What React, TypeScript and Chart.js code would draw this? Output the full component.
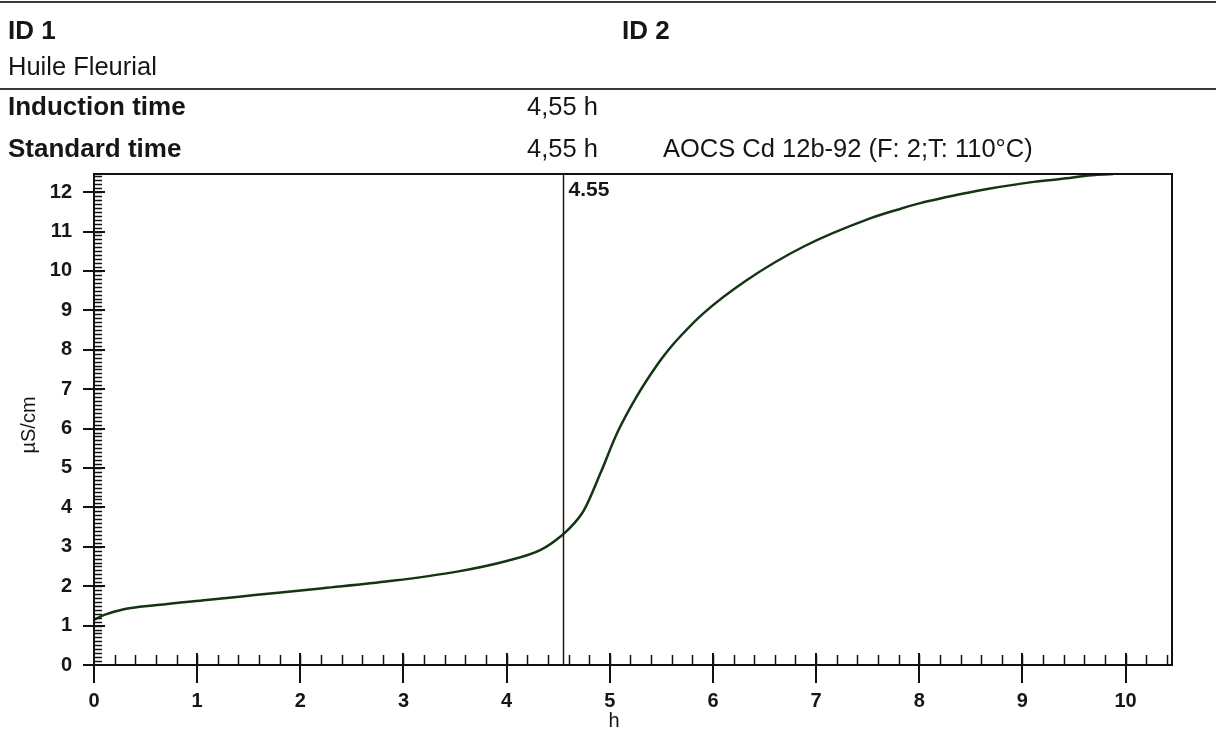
import React, { useEffect, useRef } from "react";
import { Chart, registerables } from "chart.js";

Chart.register(...registerables);

// ---- data ----
const timeH = [0, 0.1, 0.28, 0.61, 1.09, 1.58, 2.22, 2.87, 3.52, 4.0, 4.33, 4.54, 4.65, 4.75, 4.91, 5.07, 5.26, 5.46, 5.57, 5.68, 5.91, 6.33, 6.88, 7.53, 7.82, 8.01, 8.46, 8.66, 9.11, 9.43, 9.6, 9.88];
const conductivity = [1.15, 1.27, 1.41, 1.52, 1.65, 1.78, 1.95, 2.13, 2.37, 2.64, 2.92, 3.3, 3.58, 3.93, 4.87, 5.88, 6.81, 7.62, 8.0, 8.33, 8.93, 9.77, 10.62, 11.34, 11.58, 11.72, 11.98, 12.08, 12.26, 12.35, 12.41, 12.46];
const xTickValues = [0, 1, 2, 3, 4, 5, 6, 7, 8, 9, 10];
const yTickValues = [0, 1, 2, 3, 4, 5, 6, 7, 8, 9, 10, 11, 12];
const xMax = 10.45;
const yMax = 12.46;
const xMinorStep = 0.2;
const yMinorStep = 0.1;
const inductionTime = 4.55;
const inductionLabel = "4.55";
const xTitle = "h";
const yTitle = "µS/cm";

const headerId1 = "ID 1";
const headerId2 = "ID 2";
const sampleName = "Huile Fleurial";
const inductionRow = ["Induction time", "4,55 h"];
const standardRow = ["Standard time", "4,55 h", "AOCS Cd 12b-92 (F: 2;T: 110°C)"];

const FONT = '"Liberation Sans", Arial, Helvetica, sans-serif';
const INK = "#161616";

const headerPlugin = {
  id: "header",
  beforeDraw(chart: any) {
    const ctx = chart.ctx as CanvasRenderingContext2D;
    const w = chart.width;
    ctx.save();
    ctx.fillStyle = "#ffffff";
    ctx.fillRect(0, 0, w, chart.height);
    ctx.strokeStyle = "#3a3a3a";
    ctx.lineWidth = 2;
    ctx.beginPath();
    ctx.moveTo(0, 2);
    ctx.lineTo(w, 2);
    ctx.moveTo(0, 89);
    ctx.lineTo(w, 89);
    ctx.stroke();

    ctx.fillStyle = INK;
    ctx.textBaseline = "middle";
    ctx.textAlign = "left";
    const bold = `bold 26px ${FONT}`;
    const reg = `25.5px ${FONT}`;
    ctx.font = bold;
    ctx.fillText(headerId1, 8, 32);
    ctx.fillText(headerId2, 622, 32);
    ctx.font = reg;
    ctx.fillText(sampleName, 8, 68);
    ctx.font = bold;
    ctx.fillText(inductionRow[0], 8, 108);
    ctx.font = reg;
    ctx.fillText(inductionRow[1], 527, 108);
    ctx.font = bold;
    ctx.fillText(standardRow[0], 8, 150);
    ctx.font = reg;
    ctx.fillText(standardRow[1], 527, 150);
    ctx.fillText(standardRow[2], 663, 150);
    ctx.restore();
  },
};

const framePlugin = {
  id: "frame",
  afterDatasetsDraw(chart: any) {
    const ctx = chart.ctx as CanvasRenderingContext2D;
    const { left, top, right, bottom } = chart.chartArea;
    const xs = chart.scales.x;
    const ys = chart.scales.y;
    ctx.save();
    ctx.lineCap = "butt";

    // vertical induction line
    const ix = Math.round(xs.getPixelForValue(inductionTime)) + 0.5;
    ctx.strokeStyle = "#2a1414";
    ctx.lineWidth = 1.5;
    ctx.beginPath();
    ctx.moveTo(ix, bottom);
    ctx.lineTo(ix, top);
    ctx.stroke();
    ctx.fillStyle = INK;
    ctx.font = `bold 21px ${FONT}`;
    ctx.textAlign = "left";
    ctx.textBaseline = "alphabetic";
    ctx.fillText(inductionLabel, ix + 5, top + 22);

    // frame
    ctx.strokeStyle = "#111";
    ctx.lineWidth = 2;
    ctx.strokeRect(left, top, right - left, bottom - top);

    // minor ticks
    ctx.lineWidth = 1.5;
    ctx.beginPath();
    for (let v = xMinorStep; v < xMax; v += xMinorStep) {
      const px = Math.round(xs.getPixelForValue(v)) + 0.5;
      ctx.moveTo(px, bottom);
      ctx.lineTo(px, bottom - 10);
    }
    for (let v = yMinorStep; v < yMax; v += yMinorStep) {
      const py = Math.round(ys.getPixelForValue(v)) + 0.5;
      ctx.moveTo(left, py);
      ctx.lineTo(left + 8, py);
    }
    ctx.stroke();

    // major ticks
    ctx.lineWidth = 2;
    ctx.beginPath();
    for (const v of xTickValues) {
      const px = Math.round(xs.getPixelForValue(v));
      ctx.moveTo(px, bottom - 12);
      ctx.lineTo(px, bottom + 18);
    }
    for (const v of yTickValues) {
      const py = Math.round(ys.getPixelForValue(v));
      ctx.moveTo(left - 11, py);
      ctx.lineTo(left + 11, py);
    }
    ctx.stroke();

    // axis titles
    ctx.fillStyle = INK;
    ctx.font = `20px ${FONT}`;
    ctx.textAlign = "center";
    ctx.textBaseline = "middle";
    ctx.fillText(xTitle, 614, 721);
    ctx.translate(29, 425);
    ctx.rotate(-Math.PI / 2);
    ctx.fillText(yTitle, 0, 0);
    ctx.restore();
  },
};

export default function App() {
  const ref = useRef<HTMLCanvasElement | null>(null);

  useEffect(() => {
    document.body.style.margin = "0";
    const canvas = ref.current;
    if (!canvas) return;
    const chart = new Chart(canvas, {
      type: "line",
      data: {
        datasets: [
          {
            label: "Conductivity",
            data: timeH.map((t, i) => ({ x: t, y: conductivity[i] })),
            borderColor: "#143414",
            borderWidth: 2.5,
            pointRadius: 0,
            fill: false,
            cubicInterpolationMode: "monotone",
          },
        ],
      },
      options: {
        animation: false,
        responsive: false,
        devicePixelRatio: 1,
        layout: { padding: { left: 0, top: 174, right: 44, bottom: 0 } },
        plugins: {
          legend: { display: false },
          tooltip: { enabled: false },
          title: { display: false },
        },
        scales: {
          x: {
            type: "linear",
            min: 0,
            max: xMax,
            grid: { display: false, drawTicks: false },
            border: { display: false },
            afterBuildTicks: (s: any) => {
              s.ticks = xTickValues.map((v) => ({ value: v }));
            },
            afterFit: (s: any) => {
              s.height = 64;
            },
            ticks: {
              autoSkip: false,
              maxRotation: 0,
              padding: 24,
              color: INK,
              font: { family: FONT, size: 20, weight: "bold" },
              callback: (v: any) => String(v),
            },
          },
          y: {
            type: "linear",
            min: 0,
            max: yMax,
            grid: { display: false, drawTicks: false },
            border: { display: false },
            afterBuildTicks: (s: any) => {
              s.ticks = yTickValues.map((v) => ({ value: v }));
            },
            afterFit: (s: any) => {
              s.width = 94;
            },
            ticks: {
              autoSkip: false,
              padding: 22,
              color: INK,
              font: { family: FONT, size: 20, weight: "bold" },
              callback: (v: any) => String(v),
            },
          },
        },
      },
      plugins: [headerPlugin, framePlugin],
    });
    return () => chart.destroy();
  }, []);

  return (
    <div style={{ width: 1216, height: 729, background: "#fff" }}>
      <canvas ref={ref} width={1216} height={729} style={{ display: "block", width: 1216, height: 729 }} />
    </div>
  );
}
